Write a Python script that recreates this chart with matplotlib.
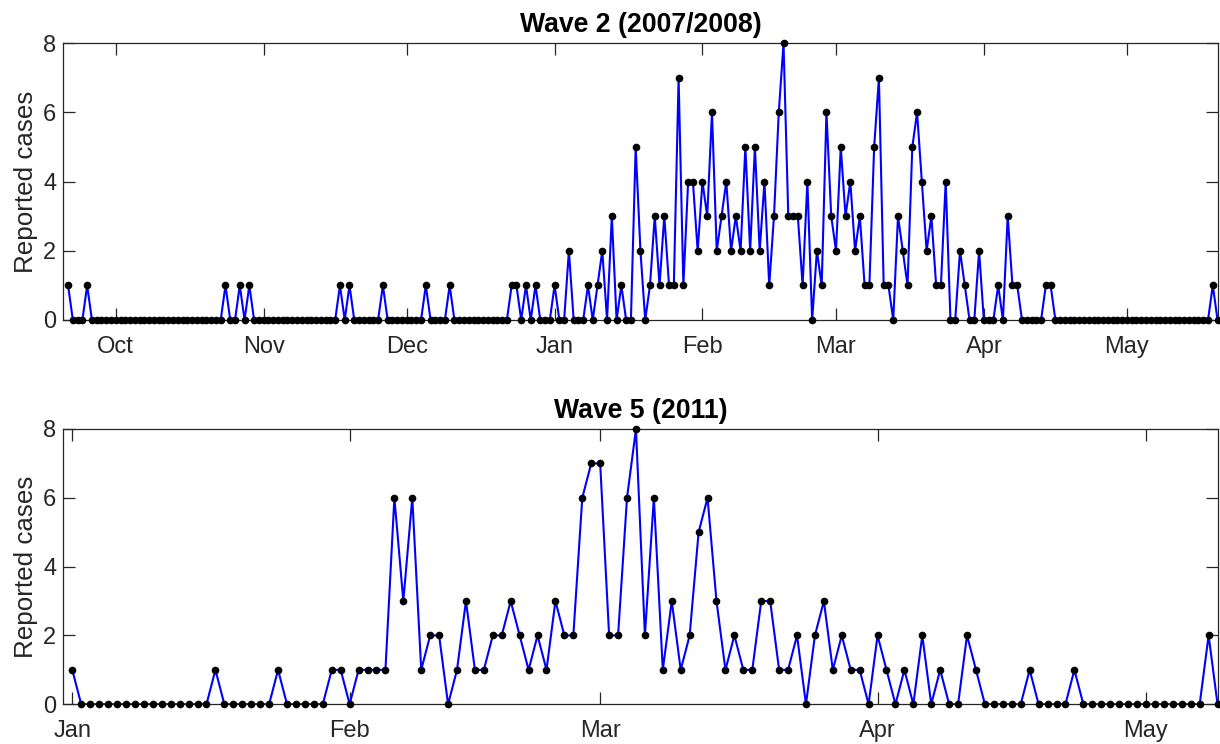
import numpy as np
import matplotlib
matplotlib.use('Agg')
from matplotlib import pyplot as plt

# daily reported cases, wave 2 starts 21 Sep, wave 5 starts 1 Jan
wave2_cases = [1, 0, 0, 0, 1, 0, 0, 0, 0, 0,
               0, 0, 0, 0, 0, 0, 0, 0, 0, 0,
               0, 0, 0, 0, 0, 0, 0, 0, 0, 0,
               0, 0, 0, 1, 0, 0, 1, 0, 1, 0,
               0, 0, 0, 0, 0, 0, 0, 0, 0, 0,
               0, 0, 0, 0, 0, 0, 0, 1, 0, 1,
               0, 0, 0, 0, 0, 0, 1, 0, 0, 0,
               0, 0, 0, 0, 0, 1, 0, 0, 0, 0,
               1, 0, 0, 0, 0, 0, 0, 0, 0, 0,
               0, 0, 0, 1, 1, 0, 1, 0, 1, 0,
               0, 0, 1, 0, 0, 2, 0, 0, 0, 1,
               0, 1, 2, 0, 3, 0, 1, 0, 0, 5,
               2, 0, 1, 3, 1, 3, 1, 1, 7, 1,
               4, 4, 2, 4, 3, 6, 2, 3, 4, 2,
               3, 2, 5, 2, 5, 2, 4, 1, 3, 6,
               8, 3, 3, 3, 1, 4, 0, 2, 1, 6,
               3, 2, 5, 3, 4, 2, 3, 1, 1, 5,
               7, 1, 1, 0, 3, 2, 1, 5, 6, 4,
               2, 3, 1, 1, 4, 0, 0, 2, 1, 0,
               0, 2, 0, 0, 0, 1, 0, 3, 1, 1,
               0, 0, 0, 0, 0, 1, 1, 0, 0, 0,
               0, 0, 0, 0, 0, 0, 0, 0, 0, 0,
               0, 0, 0, 0, 0, 0, 0, 0, 0, 0,
               0, 0, 0, 0, 0, 0, 0, 0, 0, 0,
               1, 0]

wave5_cases = [1, 0, 0, 0, 0, 0, 0, 0, 0, 0,
               0, 0, 0, 0, 0, 0, 1, 0, 0, 0,
               0, 0, 0, 1, 0, 0, 0, 0, 0, 1,
               1, 0, 1, 1, 1, 1, 6, 3, 6, 1,
               2, 2, 0, 1, 3, 1, 1, 2, 2, 3,
               2, 1, 2, 1, 3, 2, 2, 6, 7, 7,
               2, 2, 6, 8, 2, 6, 1, 3, 1, 2,
               5, 6, 3, 1, 2, 1, 1, 3, 3, 1,
               1, 2, 0, 2, 3, 1, 2, 1, 1, 0,
               2, 1, 0, 1, 0, 2, 0, 1, 0, 0,
               2, 1, 0, 0, 0, 0, 0, 1, 0, 0,
               0, 0, 1, 0, 0, 0, 0, 0, 0, 0,
               0, 0, 0, 0, 0, 0, 0, 2, 0]

wave2_months = ['Oct', 'Nov', 'Dec', 'Jan', 'Feb', 'Mar', 'Apr', 'May']
wave2_month_days = [10, 31, 30, 31, 31, 28, 31, 30]   # days up to each month start
wave5_months = ['Jan', 'Feb', 'Mar', 'Apr', 'May']
wave5_month_days = [0, 31, 28, 31, 30]

titles = ['Wave 2 (2007/2008)', 'Wave 5 (2011)']

plt.rcParams['font.family'] = ['Liberation Sans', 'DejaVu Sans']
dark = '#262626'

fig = plt.figure(figsize=(12.2, 7.44), dpi=100)
ax1 = fig.add_axes([0.0519, 0.5699, 0.9461, 0.3720])
ax2 = fig.add_axes([0.0519, 0.0534, 0.9461, 0.3700])

panels = [(ax1, wave2_cases, wave2_months, wave2_month_days),
          (ax2, wave5_cases, wave5_months, wave5_month_days)]

for i, (ax, cases, months, mdays) in enumerate(panels):
    x = np.arange(len(cases))
    ax.plot(x, cases, color='blue', lw=1.5, zorder=2)
    ax.plot(x, cases, 'o', color='black', ms=4.5, zorder=3, clip_on=False)
    ax.set_xlim(-1, len(cases) - 1)
    ax.set_ylim(0, 8)
    ax.set_yticks([0, 2, 4, 6, 8])
    ax.set_xticks(np.cumsum(mdays))
    ax.set_xticklabels(months)
    ax.tick_params(direction='in', length=8.5, width=0.9, colors=dark,
                   labelsize=17, top=True, right=True)
    ax.tick_params(axis='x', pad=11.5)
    ax.tick_params(axis='y', pad=5)
    for s in ax.spines.values():
        s.set_color(dark)
        s.set_linewidth(0.9)
    ax.set_ylabel('Reported cases', fontsize=18.7, color=dark, labelpad=4)
    ax.set_title(titles[i], fontsize=19.2, fontweight='bold', color='black', pad=8)

fig.savefig('out.png', dpi=100)
